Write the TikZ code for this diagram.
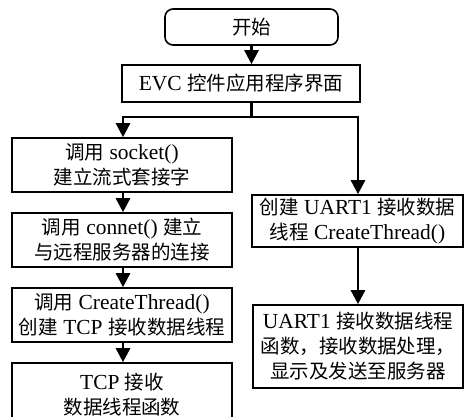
\documentclass[tikz,border=0pt]{standalone}
\usepackage{fontspec}
\setmainfont{Liberation Serif}[Scale=1.1]
\newfontfamily\cjk{Noto Sans CJK SC}
\usetikzlibrary{arrows.meta, positioning}

\tikzset{
  stepbox/.style={rectangle, draw=black, line width=1.6pt, fill=white,
    align=center, inner sep=2pt, font=\fontsize{19.5}{25}\selectfont},
  flowline/.style={line width=2.6pt, -{Triangle[length=14pt, width=14pt]}},
  plainline/.style={line width=2.6pt}
}

\begin{document}
\begin{tikzpicture}[x=1pt, y=-1pt]

  \useasboundingbox (0,0) rectangle (464,417);
  \clip (0,0) rectangle (464,417);

  % ===== 上部：开始与界面 =====
  \node[stepbox, rounded corners=8pt, minimum width=173pt, minimum height=36pt]
    (start) at (251.5, 27) {{\cjk 开始}};

  \node[stepbox, minimum width=238pt, minimum height=37pt]
    (evc) at (241, 83.5) {EVC {\cjk 控件应用程序界面}};

  \draw[flowline] (start.south) -- (start.south |- evc.north);

  % 分支点
  \coordinate (jm) at (251.5, 117);
  \coordinate (jl) at (123, 117);
  \coordinate (jr) at (358, 117);

  \draw[plainline] (start.south |- evc.south) -- (jm);
  \draw[plainline] ([xshift=-1.3pt]jl) -- ([xshift=1.3pt]jr);

  % ===== 左侧：TCP 流程 =====
  \node[stepbox, minimum width=220pt, minimum height=54pt]
    (s1) at (122, 165) {{\cjk 调用} socket()\\{\cjk 建立流式套接字}};

  \node[stepbox, minimum width=220pt, minimum height=54pt]
    (s2) at (122, 240) {{\cjk 调用} connet() {\cjk 建立}\\{\cjk 与远程服务器的连接}};

  \node[stepbox, minimum width=220pt, minimum height=54pt]
    (s3) at (122, 315) {{\cjk 调用} CreateThread()\\{\cjk 创建} TCP {\cjk 接收数据线程}};

  \node[stepbox, minimum width=220pt, minimum height=64pt]
    (s4) at (122, 395) {TCP {\cjk 接收}\\{\cjk 数据线程函数}};

  \draw[flowline] (jl) -- (jl |- s1.north);
  \draw[flowline] (s1.south -| jl) -- (jl |- s2.north);
  \draw[flowline] (s2.south -| jl) -- (jl |- s3.north);
  \draw[flowline] (s3.south -| jl) -- (jl |- s4.north);

  % ===== 右侧：UART1 流程 =====
  \node[stepbox, minimum width=211pt, minimum height=52pt]
    (u1) at (357.5, 221) {{\cjk 创建} UART1 {\cjk 接收数据}\\{\cjk 线程} CreateThread()};

  \node[stepbox, minimum width=210pt, minimum height=83pt]
    (u2) at (358, 346.5) {UART1 {\cjk 接收数据线程}\\{\cjk 函数，接收数据处理，}\\{\cjk 显示及发送至服务器}};

  \draw[flowline] (jr) -- (jr |- u1.north);
  \draw[flowline] (u1.south -| jr) -- (jr |- u2.north);

\end{tikzpicture}
\end{document}
